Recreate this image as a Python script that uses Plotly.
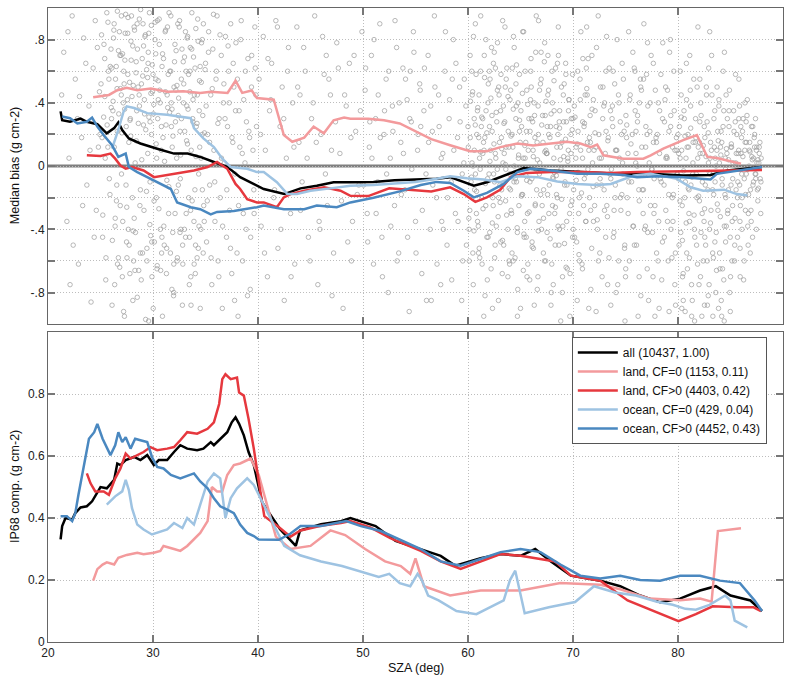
import plotly.graph_objects as go
from plotly.subplots import make_subplots

# ---------------- individual matchups (top panel scatter) ----------------
pts_sza = [
    21.5, 21.8, 22.0, 22.3, 22.6, 22.9, 23.2, 23.4, 23.7, 23.9, 24.1, 24.3, 24.5, 24.6, 24.8, 24.9, 22.1, 23.0,
    25.1, 25.2, 25.3, 25.4, 25.5, 25.6, 25.7, 25.8, 25.9, 26.0, 26.1, 26.2, 26.3, 26.4, 26.5, 26.6, 26.7, 26.8,
    26.9, 27.0, 27.1, 27.2, 27.3, 27.4, 27.5, 27.6, 27.7, 27.8, 27.9, 28.0, 28.1, 28.2, 28.3, 28.4, 28.5, 28.6,
    28.7, 28.8, 28.9, 29.0, 29.1, 29.2, 29.3, 29.4, 29.5, 29.6, 29.7, 29.8, 29.9, 26.05, 27.25, 28.45, 29.55,
    25.45, 26.55, 27.65, 28.75, 29.85, 25.75, 26.85, 27.95, 29.05, 28.15, 26.35, 27.45,
    30.0, 30.1, 30.2, 30.3, 30.4, 30.5, 30.6, 30.7, 30.8, 30.9, 31.0, 31.1, 31.2, 31.3, 31.4, 31.5, 31.6, 31.7,
    31.8, 31.9, 32.0, 32.1, 32.2, 32.3, 32.4, 32.5, 32.6, 32.7, 32.8, 32.9, 33.0, 33.1, 33.2, 33.3, 33.4, 33.5,
    33.6, 33.7, 33.8, 33.9, 34.0, 34.1, 34.2, 34.3, 34.4, 34.5, 34.6, 34.7, 34.8, 34.9, 30.45, 31.35, 32.25,
    33.15, 34.05, 30.85, 31.75, 32.65, 33.55, 34.45,
    35.0, 35.1, 35.2, 35.3, 35.4, 35.5, 35.6, 35.7, 35.8, 35.9, 36.0, 36.1, 36.2, 36.3, 36.4, 36.5, 36.6, 36.7,
    36.8, 36.9, 37.0, 37.1, 37.2, 37.3, 37.4, 37.5, 37.6, 37.7, 37.8, 37.9, 38.0, 38.2, 38.4, 38.6, 38.8, 39.0,
    39.2, 39.4, 39.6, 39.8, 38.1, 38.5, 38.9, 39.3, 39.7,
    40.1, 40.3, 40.5, 40.7, 40.9, 41.1, 41.3, 41.5, 41.7, 41.9, 42.1, 42.3, 42.5, 42.7, 42.9, 43.1, 43.3, 43.5,
    43.7, 43.9, 44.2, 44.5, 44.8, 45.1, 45.4, 45.7, 46.0, 46.3, 46.6, 46.9, 47.2, 47.5, 47.8, 48.1, 48.4, 48.7,
    49.0, 49.3, 49.6, 49.9, 44.0, 45.9, 47.0, 48.9, 46.5,
    50.2, 50.4, 50.6, 50.8, 51.0, 51.2, 51.4, 51.6, 51.8, 52.0, 52.2, 52.4, 52.6, 52.8, 53.0, 53.2, 53.4, 53.6,
    53.8, 54.0, 54.2, 54.4, 54.6, 54.8, 55.0, 55.2, 55.4, 55.6, 55.8, 56.0, 56.2, 56.4, 56.6, 56.8, 57.0, 57.2,
    57.4, 57.6, 57.8, 58.0, 58.2, 58.4, 58.6, 58.8, 59.0, 59.2, 59.4, 59.6, 59.8, 55.5, 57.5, 58.5, 59.5, 56.5, 54.5,
    60.0, 60.1, 60.2, 60.3, 60.4, 60.5, 60.6, 60.7, 60.8, 60.9, 61.0, 61.1, 61.2, 61.3, 61.4, 61.5, 61.6, 61.7,
    61.8, 61.9, 62.0, 62.1, 62.2, 62.3, 62.4, 62.5, 62.6, 62.7, 62.8, 62.9, 63.0, 63.1, 63.2, 63.3, 63.4, 63.5,
    63.6, 63.7, 63.8, 63.9, 64.0, 64.1, 64.2, 64.3, 64.4, 64.5, 64.6, 64.7, 64.8, 64.9, 65.0, 65.1, 65.2, 65.3,
    65.4, 65.5, 65.6, 65.7, 65.8, 65.9, 66.0, 66.1, 66.2, 66.3, 66.4, 66.5, 66.6, 66.7, 66.8, 66.9, 67.0, 67.1,
    67.2, 67.3, 67.4, 67.5, 67.6, 67.7, 67.8, 67.9, 68.0, 68.1, 68.2, 68.3, 68.4, 68.5, 68.6, 68.7, 68.8, 68.9,
    69.0, 69.1, 69.2, 69.3, 69.4, 69.5, 69.6, 69.7, 69.8, 69.9, 62.05, 64.05, 66.05, 68.05, 63.55, 65.55, 67.55,
    70.0, 70.15, 70.3, 70.45, 70.6, 70.75, 70.9, 71.05, 71.2, 71.35, 71.5, 71.65, 71.8, 71.95, 72.1, 72.25, 72.4,
    72.55, 72.7, 72.85, 73.0, 73.15, 73.3, 73.45, 73.6, 73.75, 73.9, 74.05, 74.2, 74.35, 74.5, 74.65, 74.8, 74.95,
    75.1, 75.25, 75.4, 75.55, 75.7, 75.85, 76.0, 76.15, 76.3, 76.45, 76.6, 76.75, 76.9, 77.05, 77.2, 77.35, 77.5,
    77.65, 77.8, 77.95, 78.1, 78.25, 78.4, 78.55, 78.7, 78.85, 79.0, 79.15, 79.3, 79.45, 79.6, 79.75, 79.9, 71.0,
    73.0, 75.0, 77.0, 79.0, 72.0, 74.0, 76.0,
    80.0, 80.1, 80.2, 80.3, 80.4, 80.5, 80.6, 80.7, 80.8, 80.9, 81.0, 81.1, 81.2, 81.3, 81.4, 81.5, 81.6, 81.7,
    81.8, 81.9, 82.0, 82.1, 82.2, 82.3, 82.4, 82.5, 82.6, 82.7, 82.8, 82.9, 83.0, 83.1, 83.2, 83.3, 83.4, 83.5,
    83.6, 83.7, 83.8, 83.9, 84.0, 84.1, 84.2, 84.3, 84.4, 84.5, 84.6, 84.7, 84.8, 84.9, 85.0, 85.1, 85.2, 85.3,
    85.4, 85.5, 85.6, 85.7, 85.8, 85.9, 86.0, 86.1, 86.2, 86.3, 86.4, 86.5, 86.6, 86.7, 86.8, 86.9, 87.0, 87.1,
    87.2, 87.3, 87.4, 87.5, 87.6, 87.7, 87.8, 87.9, 81.05, 82.05, 83.05, 84.05, 85.05, 86.05, 83.55, 84.55, 85.55,
    82.55,
    21.3, 21.9, 22.4, 22.8, 23.3, 23.6, 24.0, 24.4, 24.7, 24.95,
    25.05, 25.15, 25.22, 25.33, 25.41, 25.52, 25.63, 25.71, 25.84, 25.93, 26.02, 26.13, 26.24, 26.31, 26.43,
    26.52, 26.61, 26.74, 26.83, 26.95, 27.04, 27.12, 27.21, 27.35, 27.43, 27.56, 27.62, 27.73, 27.81, 27.92,
    28.03, 28.12, 28.24, 28.33, 28.41, 28.52, 28.64, 28.71, 28.82, 28.93, 29.02, 29.14, 29.23, 29.31, 29.42,
    29.53, 29.61, 29.72, 29.84, 29.95,
    30.04, 30.13, 30.26, 30.35, 30.42, 30.56, 30.64, 30.73, 30.86, 30.95, 31.03, 31.16, 31.24, 31.32, 31.45,
    31.53, 31.66, 31.74, 31.83, 31.96, 32.05, 32.14, 32.23, 32.36, 32.44, 32.57, 32.63, 32.76, 32.84, 32.93,
    33.02, 33.16, 33.25, 33.34, 33.46, 33.52, 33.64, 33.73, 33.86, 33.94, 34.03, 34.12, 34.26, 34.35, 34.43,
    34.56, 34.62, 34.74, 34.83, 34.96,
    35.06, 35.17, 35.28, 35.39, 35.53, 35.64, 35.76, 35.88, 36.04, 36.18, 36.27, 36.38, 36.52, 36.63, 36.75,
    36.86, 37.03, 37.15, 37.26, 37.38, 37.52, 37.64, 37.77, 37.86, 38.04, 38.15, 38.27, 38.36, 38.53, 38.64,
    38.76, 38.87, 39.04, 39.13, 39.26, 39.38, 39.52, 39.63, 39.74, 39.86,
    40.25, 40.62, 40.95, 41.22, 41.58, 41.85, 42.18, 42.45, 42.82, 43.15, 43.42, 43.78, 44.05, 44.35, 44.68,
    44.95, 45.25, 45.55, 45.82, 46.15, 46.42, 46.75, 47.05, 47.38, 47.65, 47.95, 48.25, 48.55, 48.85, 49.15,
    49.45, 49.75,
    50.05, 50.25, 50.45, 50.65, 50.85, 51.05, 51.25, 51.45, 51.65, 51.85, 52.05, 52.25, 52.45, 52.65, 52.85,
    53.05, 53.25, 53.45, 53.65, 53.85, 54.05, 54.25, 54.45, 54.65, 54.85, 55.05, 55.25, 55.45, 55.65, 55.85,
    56.05, 56.25, 56.45, 56.65, 56.85, 57.05, 57.25, 57.45, 57.65, 57.85, 58.05, 58.25, 58.45, 58.65, 58.85,
    59.05, 59.25, 59.45, 59.65, 59.85,
    60.03, 60.17, 60.24, 60.38, 60.46, 60.59, 60.63, 60.77, 60.84, 60.98, 61.05, 61.16, 61.27, 61.34, 61.48,
    61.55, 61.69, 61.72, 61.86, 61.93, 62.07, 62.14, 62.28, 62.36, 62.42, 62.58, 62.65, 62.74, 62.87, 62.96,
    63.04, 63.18, 63.26, 63.37, 63.45, 63.58, 63.64, 63.79, 63.83, 63.97, 64.06, 64.15, 64.27, 64.33, 64.48,
    64.56, 64.62, 64.76, 64.85, 64.97,
    65.04, 65.13, 65.27, 65.35, 65.44, 65.57, 65.66, 65.74, 65.88, 65.95, 66.08, 66.16, 66.23, 66.37, 66.45,
    66.54, 66.68, 66.76, 66.83, 66.97, 67.06, 67.14, 67.28, 67.35, 67.47, 67.53, 67.67, 67.74, 67.86, 67.93,
    68.04, 68.17, 68.26, 68.34, 68.43, 68.57, 68.66, 68.73, 68.86, 68.94, 69.03, 69.16, 69.24, 69.37, 69.46,
    69.55, 69.63, 69.78, 69.84, 69.96,
    60.12, 60.52, 60.91, 61.21, 61.62, 62.03, 62.33, 62.81, 63.12, 63.52, 63.91, 64.22, 64.71, 65.21, 65.62,
    66.02, 66.31, 66.72, 67.18, 67.61, 68.12, 68.52, 68.83, 69.32, 69.72, 60.71, 61.41, 62.52, 63.62, 64.41,
    65.51, 66.61, 67.42, 68.22, 69.12, 61.02, 62.92, 64.91, 66.92, 68.72,
    70.06, 70.12, 70.27, 70.35, 70.48, 70.54, 70.67, 70.73, 70.86, 70.92, 71.08, 71.16, 71.23, 71.38, 71.44,
    71.57, 71.63, 71.78, 71.86, 71.94, 72.06, 72.18, 72.24, 72.33, 72.47, 72.58, 72.62, 72.77, 72.83, 72.96,
    73.07, 73.14, 73.28, 73.36, 73.43, 73.57, 73.66, 73.78, 73.84, 73.97, 74.03, 74.17, 74.26, 74.38, 74.42,
    74.56, 74.68, 74.74, 74.87, 74.93,
    75.04, 75.16, 75.23, 75.37, 75.45, 75.58, 75.64, 75.76, 75.83, 75.97, 76.05, 76.14, 76.27, 76.33, 76.46,
    76.55, 76.68, 76.72, 76.87, 76.94, 77.07, 77.13, 77.26, 77.38, 77.44, 77.57, 77.66, 77.73, 77.84, 77.96,
    78.03, 78.16, 78.24, 78.37, 78.45, 78.53, 78.67, 78.76, 78.84, 78.97, 79.06, 79.14, 79.27, 79.33, 79.48,
    79.56, 79.64, 79.77, 79.85, 79.94,
    70.4, 71.3, 72.2, 73.2, 74.1, 75.3, 76.2, 77.1, 78.2, 79.2, 71.7, 73.6, 75.9, 77.8, 79.7,
    80.04, 80.13, 80.26, 80.35, 80.43, 80.57, 80.64, 80.76, 80.83, 80.95, 81.04, 81.17, 81.23, 81.36, 81.44,
    81.56, 81.67, 81.74, 81.86, 81.93, 82.04, 82.16, 82.27, 82.34, 82.48, 82.56, 82.63, 82.77, 82.84, 82.96,
    83.06, 83.14, 83.23, 83.37, 83.46, 83.53, 83.64, 83.78, 83.86, 83.94, 84.03, 84.17, 84.24, 84.36, 84.47,
    84.53, 84.66, 84.74, 84.86, 84.93,
    85.04, 85.16, 85.24, 85.38, 85.45, 85.53, 85.67, 85.73, 85.86, 85.94, 86.07, 86.14, 86.25, 86.36, 86.43,
    86.57, 86.64, 86.76, 86.83, 86.95, 87.03, 87.14, 87.26, 87.35, 87.47, 87.56, 87.62, 87.74, 87.83, 87.92,
    80.22, 80.68, 81.12, 81.58, 82.08, 82.52, 82.92, 83.32, 83.72, 84.12, 84.58, 84.98, 85.48, 85.92, 86.38,
    86.88, 87.38, 87.88, 83.02, 84.42,
]
pts_bias = [
    0.72, -0.35, 0.05, 0.95, 0.55, -0.62, 0.18, 0.81, -0.12, 0.38, -0.86, 0.62, 0.92, -0.28, 0.12, 0.47, -0.75, 0.44,
    0.83, -0.45, 0.31, 0.68, -0.72, 0.97, 0.12, 0.55, -0.18, 0.74, -0.88, 0.41, 0.9, -0.33, 0.63, 0.22, -0.58, 0.85,
    0.49, -0.05, 0.71, -0.92, 0.36, 0.96, -0.26, 0.58, 0.15, -0.68, 0.79, 0.44, -0.41, 0.88, 0.02, 0.66, -0.83, 0.27,
    0.93, -0.15, 0.52, -0.55, 0.76, 0.33, -0.97, 0.61, 0.08, 0.84, -0.37, 0.46, -0.7, 0.3, 0.52, 0.35, 0.72,
    0.05, -0.12, -0.4, -0.25, 0.2, 0.6, 0.7, 0.95, 0.9, -0.6, -0.75, 0.25,
    0.58, -0.22, 0.91, 0.14, -0.63, 0.42, 0.77, -0.4, 0.25, -0.95, 0.68, 0.03, 0.86, -0.52, 0.37, -0.13, 0.6, 0.95,
    -0.78, 0.19, 0.5, -0.3, 0.73, -0.6, 0.32, 0.88, -0.08, 0.55, -0.88, 0.4, 0.69, -0.45, 0.16, 0.82, -0.2, 0.47,
    -0.7, 0.97, 0.28, -0.35, 0.62, 0.06, -0.58, 0.79, 0.35, -0.9, 0.53, -0.15, 0.9, 0.21, 0.3, 0.45, 0.05,
    0.6, -0.5, -0.45, 0.25, -0.4, 0.75, 0.12,
    0.65, -0.48, 0.2, 0.85, -0.12, 0.45, -0.75, 0.74, 0.1, -0.35, 0.55, 0.95, -0.6, 0.3, -0.2, 0.7, -0.9, 0.4,
    0.02, 0.82, -0.45, 0.25, 0.6, -0.28, 0.9, -0.68, 0.15, 0.5, -0.05, 0.78, -0.55, 0.35, 0.92, -0.3, 0.6, -0.82,
    0.18, 0.7, -0.15, 0.45, -0.95, 0.08, 0.28, -0.45, 0.88,
    0.55, -0.38, 0.82, 0.1, -0.7, 0.35, 0.65, -0.2, 0.92, -0.52, 0.25, 0.5, -0.85, 0.05, 0.75, -0.3, 0.4, -0.62,
    0.88, 0.15, -0.1, 0.6, -0.45, 0.3, 0.95, -0.75, 0.2, 0.58, -0.25, 0.45, -0.55, 0.78, 0.08, -0.9, 0.38, 0.65,
    -0.35, 0.22, -0.12, 0.85, 0.45, -0.4, 0.1, -0.6, 0.7,
    0.48, -0.3, 0.12, 0.7, -0.62, 0.3, -0.1, 0.9, -0.45, 0.2, 0.55, -0.8, 0.05, 0.38, -0.25, 0.75, -0.55, 0.15,
    0.62, -0.15, 0.42, -0.92, 0.28, 0.85, -0.35, 0.1, 0.52, -0.68, 0.35, -0.05, 0.7, -0.4, 0.22, 0.95, -0.2, 0.45,
    -0.75, 0.08, 0.6, -0.5, 0.3, -0.1, 0.8, -0.3, 0.18, 0.5, -0.85, 0.02, 0.38, 0.25, -0.35, 0.55, -0.6, -0.85, 0.6,
    0.25, -0.4, 0.7, -0.1, 0.45, -0.75, 0.1, 0.9, -0.3, 0.35, -0.55, 0.05, 0.6, -0.2, 0.3, -0.95, 0.18, 0.8,
    -0.45, 0.4, -0.05, 0.55, -0.65, 0.22, -0.25, 0.72, 0.08, -0.38, 0.48, -0.85, 0.15, 0.35, -0.15, 0.92, -0.5, 0.28,
    -0.02, 0.62, -0.7, 0.12, 0.42, -0.28, 0.2, -0.6, 0.75, -0.08, 0.38, -0.42, 0.05, 0.58, -0.9, 0.25, -0.18, 0.85,
    -0.35, 0.15, 0.48, -0.62, 0.3, -0.1, 0.68, -0.48, 0.1, 0.4, -0.25, 0.95, -0.78, 0.2, -0.05, 0.52, -0.4, 0.32,
    -0.15, 0.78, -0.6, 0.08, 0.45, -0.3, 0.18, -0.88, 0.6, -0.08, 0.35, -0.5, 0.25, -0.2, 0.88, -0.4, 0.12, 0.5,
    -0.7, 0.28, -0.12, 0.65, -0.35, 0.05, 0.42, -0.95, 0.2, -0.22, 0.25, -0.15, 0.3, -0.25, 0.5, -0.45, 0.25,
    0.3, -0.45, 0.12, 0.6, -0.2, 0.85, -0.65, 0.25, -0.05, 0.45, -0.9, 0.15, 0.7, -0.35, 0.35, -0.12, 0.95,
    -0.55, 0.05, 0.5, -0.28, 0.22, -0.75, 0.62, -0.08, 0.38, -0.42, 0.1, 0.8, -0.6, 0.28, -0.18, 0.55, -0.98,
    0.18, -0.3, 0.42, -0.05, 0.72, -0.5, 0.08, 0.32, -0.7, 0.5, -0.15, 0.9, -0.38, 0.2, -0.85, 0.4, -0.02,
    0.65, -0.25, 0.15, -0.6, 0.35, -0.1, 0.78, -0.45, 0.05, 0.48, -0.92, 0.25, -0.2, 0.6, -0.55, 0.1, -0.25,
    0.4, -0.7, 0.58, -0.35, 0.1, -0.2, 0.22,
    0.2, -0.5, 0.05, 0.45, -0.25, -0.85, 0.3, -0.1, 0.65, -0.65, 0.12, -0.35, 0.38, -0.95, -0.05, 0.55, -0.45, 0.18,
    -0.2, 0.88, -0.75, 0.08, 0.32, -0.3, -0.6, 0.25, -0.12, 0.5, -0.88, 0.02, -0.4, 0.15, 0.7, -0.55, -0.18, 0.35,
    -0.8, 0.1, -0.28, 0.42, -0.65, 0.22, -0.08, 0.6, -0.98, 0.05, -0.38, 0.3, -0.15, 0.48, -0.7, 0.12, -0.25, 0.35,
    -0.5, 0.02, 0.2, -0.1, 0.55, -0.35, 0.08, -0.2, 0.3, -0.6, 0.15, -0.05, 0.42, -0.3, 0.1, -0.15, 0.25, -0.45,
    0.05, 0.2, -0.08, 0.12, -0.22, 0.02, 0.15, -0.1, -0.15, 0.15, -0.05, 0.12, -0.12, 0.18, 0.05, -0.2, 0.08,
    -0.45,
    0.45, 0.85, -0.5, 0.3, -0.25, 0.65, 0.1, -0.45, 0.75, 0.2,
    0.52, 0.18, -0.31, 0.77, 0.44, -0.58, 0.26, 0.91, -0.08, 0.63, 0.37, -0.47, 0.81, 0.12, 0.55,
    -0.22, 0.98, 0.33, -0.64, 0.7, 0.21, -0.35, 0.6, 0.84, -0.12, 0.42, 0.94, -0.5, 0.29, 0.67,
    -0.2, 0.51, 0.86, -0.42, 0.16, 0.74, -0.66, 0.38, 0.99, 0.04, 0.57, -0.28, 0.82, 0.23, -0.52,
    0.65, 0.31, -0.1, 0.89, 0.47,
    0.33, -0.48, 0.71, 0.05, 0.92, -0.27, 0.48, -0.66, 0.63, 0.18, -0.38, 0.85, 0.26, -0.09, 0.58,
    0.97, -0.55, 0.4, 0.12, -0.82, 0.66, 0.28, -0.16, 0.9, 0.43, -0.42, 0.07, 0.74, -0.62, 0.52,
    0.22, -0.3, 0.81, 0.36, -0.75, 0.6, 0.1, -0.22, 0.69, 0.45, -0.68, 0.25, 0.93, -0.05, 0.54,
    -0.4, 0.78, 0.32, -0.25, 0.61,
    0.38, -0.22, 0.72, 0.15, -0.58, 0.49, 0.96, -0.1, 0.6, 0.27, -0.7, 0.83, 0.05, -0.38, 0.52,
    0.3, -0.15, 0.76, 0.4, -0.52, 0.18, 0.65, -0.85, 0.35, 0.55, -0.25, 0.12, 0.8, -0.6, 0.42,
    0.02, -0.4, 0.68, 0.22, -0.78, 0.5, 0.1, -0.3, 0.62, 0.25,
    0.2, -0.55, 0.68, 0.42, -0.15, 0.88, -0.4, 0.3, 0.6, -0.7, 0.12, 0.5, -0.28, 0.75, 0.05,
    -0.6, 0.4, 0.15, -0.35, 0.82, -0.05, 0.55, -0.82, 0.28, 0.62, -0.22, 0.45, -0.48, 0.18, 0.7,
    -0.18, 0.35,
    -0.12, 0.62, -0.48, 0.28, 0.05, 0.8, -0.3, 0.45, 0.18, -0.7, 0.35, -0.05, 0.6, -0.38, 0.22,
    0.92, -0.6, 0.4, -0.18, 0.08, 0.55, -0.45, 0.3, -0.02, 0.72, -0.55, 0.2, 0.48, -0.28, 0.62,
    -0.85, 0.15, 0.38, -0.12, 0.5, -0.62, 0.25, 0.05, -0.4, 0.85, -0.2, 0.42, -0.72, 0.1, 0.65,
    -0.35, 0.28, -0.05, 0.55, -0.5,
    0.12, -0.28, 0.41, 0.02, -0.55, 0.3, -0.15, 0.58, 0.2, -0.38, 0.45, -0.02, 0.25, -0.62, 0.15,
    0.7, -0.25, 0.35, -0.08, 0.52, -0.42, 0.1, 0.32, -0.2, 0.65, -0.5, 0.05, 0.28, -0.32, 0.45,
    -0.12, 0.18, -0.68, 0.38, 0.08, -0.22, 0.55, -0.4, 0.22, -0.05, 0.48, -0.3, 0.12, 0.82, -0.58,
    0.3, -0.1, 0.4, -0.25, 0.15,
    0.35, -0.18, 0.05, -0.45, 0.6, 0.22, -0.3, 0.1, -0.72, 0.42, -0.08, 0.28, -0.52, 0.18, 0.72,
    -0.15, 0.38, -0.35, 0.02, 0.55, -0.25, 0.15, -0.6, 0.32, 0.08, -0.42, 0.48, -0.12, 0.25, -0.8,
    0.4, 0.05, -0.3, 0.62, -0.18, 0.2, -0.5, 0.35, -0.02, 0.15, -0.38, 0.52, -0.1, 0.28, -0.65,
    0.1, 0.42, -0.25, 0.3, -0.45,
    -0.6, 0.82, -0.35, 0.95, -0.82, 0.6, -0.9, 0.78, -0.48, 0.88, -0.6, 0.62, -0.95, 0.85, -0.7,
    0.5, -0.88, 0.92, -0.55, 0.7, -0.75, 0.65, -0.98, 0.58, -0.68, -0.05, 0.08, -0.1, 0.12, 0.0,
    -0.06, 0.04, 0.1, -0.04, 0.06, 0.18, -0.2, 0.22, -0.18, 0.24,
    -0.15, 0.38, 0.05, -0.48, 0.22, -0.3, 0.55, 0.1, -0.62, 0.28, -0.08, 0.45, -0.35, 0.15, 0.68,
    -0.2, 0.32, -0.52, 0.02, 0.42, -0.25, 0.12, 0.75, -0.4, 0.2, -0.08, 0.5, -0.7, 0.3, -0.15,
    0.08, 0.6, -0.32, 0.18, -0.58, 0.35, -0.02, 0.25, -0.45, 0.52, -0.12, 0.1, -0.75, 0.4, 0.05,
    -0.28, 0.65, -0.05, 0.22, -0.5,
    0.32, -0.2, 0.08, -0.6, 0.45, -0.1, 0.2, -0.38, 0.62, 0.02, -0.5, 0.28, -0.15, 0.4, -0.82,
    0.12, -0.3, 0.55, -0.05, 0.25, -0.65, 0.38, 0.02, -0.25, 0.7, -0.42, 0.15, -0.08, 0.48, -0.55,
    0.2, -0.35, 0.08, 0.58, -0.72, 0.3, -0.12, 0.42, -0.28, 0.05, -0.6, 0.22, 0.8, -0.4, 0.12,
    -0.18, 0.35, -0.88, 0.18, -0.05,
    -0.85, 0.88, -0.92, 0.82, -0.8, 0.85, -0.95, 0.78, -0.9, 0.72, -0.78, -0.88, 0.6, -0.95, -0.75,
    -0.08, 0.25, -0.42, 0.1, -0.7, 0.35, -0.2, 0.05, -0.55, 0.2, -0.3, 0.48, -0.12, -0.85, 0.15,
    -0.4, 0.3, -0.05, -0.62, 0.12, -0.22, 0.4, -0.95, 0.08, -0.35, 0.18, -0.5, 0.28, -0.15, -0.75,
    0.05, -0.28, 0.45, -0.58, 0.12, -0.1, -0.42, 0.22, -0.9, 0.02, -0.32, 0.15, -0.65, 0.35, -0.18,
    -0.48, 0.08, -0.28, 0.25, -0.8,
    0.12, -0.35, 0.02, -0.6, 0.28, -0.15, -0.45, 0.08, 0.38, -0.25, -0.05, 0.22, -0.72, 0.1, -0.18,
    0.32, -0.38, 0.0, 0.15, -0.28, 0.06, -0.12, 0.18, -0.05, 0.1, -0.15, 0.04, 0.12, -0.08, 0.05,
    0.6, -0.92, 0.7, -0.98, 0.55, -0.88, 0.62, -0.95, 0.5, -0.85, 0.45, -0.92, 0.58, -0.7, 0.4,
    -0.55, 0.3, -0.3, 0.85, 0.72,
]

# denser clusters of matchups (low- and high-SZA groups)
dense_sza = [
    60.08, 60.21, 60.33, 60.44, 60.57, 60.69, 60.81, 60.93, 61.07, 61.19, 61.31, 61.43, 61.58, 61.66, 61.79,
    61.91, 62.09, 62.18, 62.31, 62.47, 62.54, 62.69, 62.79, 62.92, 63.06, 63.21, 63.29, 63.42, 63.56, 63.68,
    63.81, 63.92, 64.09, 64.19, 64.31, 64.43, 64.57, 64.68, 64.82, 64.91, 65.09, 65.18, 65.32, 65.41, 65.59,
    65.69, 65.82, 65.91, 66.11, 66.22,
    66.34, 66.41, 66.58, 66.69, 66.81, 66.93, 67.02, 67.19, 67.31, 67.43, 67.58, 67.69, 67.82, 67.91, 68.09,
    68.19, 68.32, 68.46, 68.58, 68.69, 68.79, 68.92, 69.08, 69.19, 69.29, 69.42, 69.57, 69.68, 69.81, 69.92,
    70.02, 70.19, 70.31, 70.42, 70.57, 70.69, 70.81, 70.91, 71.09, 71.21, 71.31, 71.42, 71.56, 71.68, 71.81,
    71.92, 60.36, 61.12, 62.61, 63.14,
    63.96, 64.62, 65.27, 65.98, 66.66, 67.27, 67.98, 68.61, 69.34, 69.96, 70.61, 71.27, 60.48, 61.53, 62.44,
    63.33, 64.38, 65.44, 66.47, 67.52, 68.41, 69.51, 70.48, 71.51, 62.24, 64.74, 66.96, 68.98, 70.94, 61.84,
    80.07, 80.18, 80.31, 80.42, 80.53, 80.66, 80.78, 80.87, 80.98, 81.09, 81.21, 81.33, 81.42, 81.53, 81.64,
    81.77, 81.88, 81.97, 82.08, 82.19, 82.32, 82.41, 82.53, 82.67, 82.78, 82.88, 82.99, 83.09, 83.18, 83.29,
    83.42, 83.51, 83.62, 83.74, 83.83, 83.96, 84.08, 84.21, 84.29, 84.41, 84.52, 84.61, 84.73, 84.81, 84.97,
    85.08, 85.21, 85.33, 85.43, 85.57,
    85.66, 85.78, 85.87, 85.98, 86.09, 86.18, 86.31, 86.42, 86.52, 86.63, 86.72, 86.86, 86.97, 87.08, 87.19,
    87.29, 87.41, 87.52, 87.66, 87.74, 80.49, 81.29, 82.14, 82.88, 83.67, 84.36, 85.14, 85.91, 86.68, 87.46,
    80.82, 81.82, 82.71, 83.89, 84.86, 85.79, 86.49, 87.12, 80.36, 84.16,
    26.08, 26.27, 26.39, 26.58, 26.71, 26.88, 26.99, 27.17, 27.32, 27.48, 27.59, 27.77, 27.88, 28.07, 28.21,
    28.38, 28.49, 28.68, 28.79, 28.97, 29.09, 29.27, 29.38, 29.49, 29.66, 29.78, 29.93, 30.07, 30.19, 30.32,
    30.49, 30.59, 30.79, 30.91, 31.07, 31.19, 31.38, 31.49, 31.69, 31.81, 31.98, 32.09, 32.28, 32.41, 32.53,
    32.71, 32.88, 32.99, 33.09, 33.28,
    33.39, 33.58, 33.69, 33.81, 33.99, 34.08, 34.19, 34.31, 34.49, 34.58, 34.69, 34.88, 26.62, 27.08, 27.52,
    28.28, 28.88, 29.42, 29.88, 30.38, 30.82, 31.28, 31.88, 32.32, 32.82, 33.48, 33.92, 34.38, 34.78, 26.18,
    26.98, 27.84, 28.58, 29.18, 29.72, 30.28, 30.68, 31.58, 32.18, 32.58, 33.22, 33.78, 34.22, 34.68, 28.08,
    30.02, 31.98, 33.62, 27.28, 29.58,
    72.09, 72.31, 72.52, 72.71, 72.93, 73.11, 73.32, 73.51, 73.72, 73.91, 74.11, 74.33, 74.52, 74.72, 74.91,
    75.12, 75.31, 75.52, 75.71, 75.92, 76.11, 76.31, 76.52, 76.71, 76.92, 77.11, 77.32, 77.52, 77.71, 77.91,
    78.12, 78.31, 78.52, 78.71, 78.91, 79.12, 79.31, 79.52, 79.71, 79.92, 72.42, 73.82, 75.02, 76.42, 77.62,
    78.82, 79.42, 73.22, 74.62, 76.82,
]
dense_bias = [
    -0.33, 0.18, -0.07, 0.47, -0.41, 0.26, -0.16, 0.37, -0.52, 0.09, 0.31, -0.27, 0.56, -0.11, 0.21,
    -0.45, 0.03, 0.43, -0.36, 0.14, -0.58, 0.34, -0.02, 0.5, -0.23, 0.11, -0.47, 0.27, 0.01, -0.31,
    0.44, -0.14, 0.19, -0.55, 0.36, -0.06, 0.52, -0.39, 0.07, 0.29, -0.19, 0.46, -0.43, 0.13, -0.09,
    0.39, -0.29, 0.22, -0.51, 0.06,
    0.32, -0.24, 0.15, -0.41, 0.48, -0.03, 0.26, -0.33, 0.09, 0.41, -0.18, 0.2, -0.46, 0.33, -0.07,
    0.54, -0.26, 0.12, -0.38, 0.28, 0.04, -0.21, 0.45, -0.49, 0.17, -0.12, 0.35, -0.3, 0.08, 0.23,
    -0.4, 0.31, -0.09, 0.14, -0.56, 0.42, -0.17, 0.05, 0.27, -0.35, 0.49, -0.02, 0.18, -0.28, 0.36,
    -0.13, 0.6, -0.58, 0.62, 0.58,
    -0.62, 0.64, -0.66, 0.6, -0.7, 0.66, -0.62, 0.7, -0.64, 0.58, -0.6, 0.62, 0.0, 0.1, -0.05,
    0.02, -0.1, 0.05, -0.02, 0.08, -0.06, 0.03, -0.04, 0.1, 0.75, -0.78, 0.72, -0.8, 0.68, -0.72,
    0.08, -0.22, 0.31, -0.47, -0.03, 0.19, -0.36, 0.12, -0.14, -0.58, 0.24, -0.07, 0.02, -0.31, 0.15,
    -0.5, 0.05, -0.19, 0.28, -0.42, -0.1, 0.13, -0.27, 0.06, -0.6, 0.21, -0.04, -0.36, 0.1, -0.15,
    0.3, -0.48, 0.0, -0.24, 0.16, -0.55, 0.07, -0.12, 0.25, -0.38, -0.02, 0.11, -0.3, 0.04, -0.45,
    0.14, -0.08, 0.22, -0.33, 0.0,
    -0.2, 0.1, -0.12, 0.25, -0.4, 0.06, -0.08, -0.28, 0.15, -0.02, -0.18, 0.09, -0.35, 0.04, -0.1,
    0.12, -0.05, 0.02, -0.14, 0.08, -0.68, -0.75, -0.7, -0.82, -0.66, -0.72, -0.6, -0.52, -0.5, -0.4,
    0.42, 0.5, 0.45, 0.38, 0.35, 0.3, 0.28, 0.25, -0.9, -0.95,
    0.62, 0.86, -0.38, 0.49, 0.73, -0.25, 0.95, 0.4, 0.67, -0.48, 0.84, 0.53, 0.19, 0.76, -0.33,
    0.59, 0.9, 0.45, -0.55, 0.68, 0.26, 0.83, -0.16, 0.56, 0.97, -0.44, 0.64, 0.39, 0.8, -0.2,
    0.54, 0.93, 0.1, 0.71, -0.5, 0.47, 0.88, -0.3, 0.6, 0.36, -0.62, 0.77, 0.51, -0.12, 0.92,
    0.3, 0.66, -0.4, 0.85, 0.14,
    0.58, -0.28, 0.74, 0.42, -0.15, 0.87, 0.27, -0.52, 0.63, 0.05, 0.8, -0.35, -0.62, -0.7, -0.58,
    -0.66, -0.72, -0.6, -0.48, -0.65, -0.55, -0.68, -0.42, -0.58, -0.5, -0.45, -0.62, -0.38, -0.55, 0.35,
    0.45, 0.3, 0.5, 0.42, 0.28, 0.55, 0.4, 0.34, 0.48, 0.22, 0.38, 0.3, 0.45, 0.2, -0.85,
    -0.9, -0.8, -0.88, -0.95, -0.98,
    0.21, -0.34, 0.05, -0.12, 0.38, -0.45, 0.16, -0.05, 0.3, -0.28, 0.1, 0.45, -0.2, 0.02, -0.52,
    0.26, -0.1, 0.14, -0.38, 0.35, 0.0, -0.22, 0.48, -0.15, 0.12, -0.42, 0.22, -0.02, -0.3, 0.18,
    0.4, -0.08, -0.48, 0.28, 0.06, -0.18, 0.32, -0.35, 0.1, -0.05, -0.6, 0.6, -0.65, 0.55, -0.7,
    0.5, -0.58, -0.25, 0.2, -0.4,
]

# ---------------- running median bias (top panel) ----------------
all_top_x = [21.2, 21.35, 22.1, 23.1, 23.7, 24.7, 25.6, 26.3, 26.7, 27.07, 27.7, 28.8, 30.4, 32.0, 33.3, 34.5,
             35.8, 37.1, 38.3, 39.6, 40.55, 42.5, 44.05, 45.6, 47.2, 48.8, 51.0, 53.0, 55.0, 57.0, 58.3, 59.6,
             60.55, 61.8, 63.1, 64.4, 65.3, 67.9, 71.0, 74.2, 77.4, 80.5, 83.1, 84.7, 88.0]
all_top_y = [0.346, 0.29, 0.28, 0.30, 0.28, 0.265, 0.207, 0.24, 0.277, 0.228, 0.175, 0.143, 0.11, 0.079, 0.079,
             0.058, 0.026, -0.006, -0.07, -0.113, -0.145, -0.177, -0.141, -0.124, -0.102, -0.102, -0.1, -0.09,
             -0.085, -0.08, -0.07, -0.102, -0.124, -0.102, -0.07, -0.038, -0.013, -0.028, -0.038, -0.049, -0.049,
             -0.06, -0.056, -0.028, -0.006]

land0_top_x = [24.3, 25.8, 26.6, 27.5, 28.5, 29.8, 31.35, 32.9, 34.5, 35.5, 37.1, 37.86, 38.5, 39.4, 39.9, 41.5,
               42.46, 43.26, 44.4, 45.3, 46.27, 47.2, 48.2, 48.8, 50.5, 52.0, 53.5, 55.0, 56.5, 58.3, 60.2, 61.8,
               63.1, 64.7, 66.2, 67.9, 69.4, 70.7, 71.7, 72.3, 72.9, 74.8, 76.7, 77.4, 78.6, 80.5, 81.8, 82.8,
               83.7, 86.0]
land0_top_y = [0.435, 0.45, 0.48, 0.495, 0.48, 0.49, 0.47, 0.474, 0.463, 0.47, 0.463, 0.54, 0.463, 0.478, 0.43,
               0.42, 0.196, 0.154, 0.18, 0.25, 0.207, 0.29, 0.307, 0.30, 0.30, 0.29, 0.27, 0.22, 0.17, 0.132,
               0.094, 0.094, 0.12, 0.143, 0.13, 0.143, 0.154, 0.143, 0.12, 0.136, 0.068, 0.047, 0.047, 0.068,
               0.11, 0.164, 0.196, 0.058, 0.051, 0.015]

land_top_x = [23.7, 25.0, 25.95, 26.4, 26.9, 27.4, 28.0, 29.1, 30.1, 31.35, 32.6, 33.9, 35.2, 36.1, 37.07, 37.86,
              38.3, 38.97, 39.9, 40.55, 41.8, 42.46, 43.1, 44.4, 46.3, 47.86, 48.8, 50.5, 52.5, 54.5, 56.5, 58.3,
              59.6, 60.7, 61.8, 63.1, 64.05, 65.6, 67.9, 71.0, 73.6, 76.1, 79.0, 82.1, 85.3, 88.0]
land_top_y = [0.068, 0.064, 0.079, 0.047, 0.004, -0.017, -0.006, -0.028, -0.07, -0.056, -0.038, -0.028, -0.006,
              0.026, -0.017, -0.113, -0.145, -0.21, -0.23, -0.23, -0.26, -0.198, -0.177, -0.156, -0.134, -0.156,
              -0.188, -0.19, -0.14, -0.15, -0.16, -0.134, -0.177, -0.226, -0.198, -0.149, -0.07, -0.043, -0.038,
              -0.038, -0.043, -0.038, -0.034, -0.028, -0.028, -0.024]

ocean0_top_x = [26.1, 26.7, 27.2, 27.5, 28.2, 29.45, 31.35, 32.6, 33.6, 33.9, 34.8, 35.8, 36.6, 37.4, 38.97,
                39.9, 40.55, 41.8, 42.8, 43.7, 45.0, 46.9, 48.8, 51.0, 53.0, 55.0, 57.0, 58.3, 59.9, 61.5, 63.1,
                64.7, 66.6, 68.5, 70.4, 72.3, 73.6, 75.8, 77.4, 79.9, 81.2, 82.4, 84.4, 85.6, 86.6]
ocean0_top_y = [0.11, 0.23, 0.346, 0.378, 0.367, 0.335, 0.324, 0.314, 0.303, 0.24, 0.175, 0.12, 0.047, -0.006,
                -0.017, -0.038, -0.038, -0.102, -0.177, -0.177, -0.156, -0.141, -0.124, -0.12, -0.11, -0.1,
                -0.08, -0.064, -0.077, -0.085, -0.102, -0.064, -0.07, -0.098, -0.113, -0.12, -0.113, -0.06,
                -0.049, -0.081, -0.134, -0.156, -0.149, -0.177, -0.184]

ocean_top_x = [21.35, 22.1, 22.8, 23.7, 24.2, 24.7, 25.3, 26.1, 26.7, 27.4, 27.7, 28.5, 29.45, 30.7, 31.7, 32.3,
               33.6, 34.5, 35.5, 36.1, 37.7, 39.9, 40.55, 42.46, 44.4, 45.6, 47.5, 48.8, 51.0, 53.5, 55.5, 57.0,
               58.3, 59.6, 60.55, 61.8, 63.4, 64.7, 66.0, 67.9, 70.4, 72.6, 74.8, 76.1, 78.0, 80.5, 83.1, 83.7,
               85.6, 88.0]
ocean_top_y = [0.314, 0.303, 0.27, 0.28, 0.307, 0.25, 0.196, 0.132, 0.058, 0.079, -0.006, -0.038, -0.07, -0.113,
               -0.145, -0.23, -0.26, -0.273, -0.305, -0.29, -0.284, -0.26, -0.25, -0.273, -0.273, -0.25, -0.26,
               -0.23, -0.2, -0.16, -0.12, -0.1, -0.107, -0.156, -0.198, -0.17, -0.113, -0.038, -0.017, -0.028,
               -0.049, -0.049, -0.056, -0.07, -0.064, -0.07, -0.085, -0.049, -0.028, -0.006]

# ---------------- IP68 component (bottom panel) ----------------
all_bot_x = [21.2, 21.35, 21.67, 22.3, 22.6, 23.1, 23.7, 24.2, 25.0, 25.6, 26.3, 26.6, 26.9, 27.4, 28.2, 28.8,
             29.45, 30.08, 30.55, 31.35, 32.0, 32.6, 33.26, 34.2, 34.8, 35.5, 35.8, 36.4, 37.07, 37.5, 37.86,
             38.2, 38.65, 39.1, 39.6, 40.4, 42.1, 43.6, 44.0, 46.0, 47.9, 48.8, 51.2, 53.1, 55.5, 57.4, 58.8,
             61.2, 63.1, 65.0, 66.4, 67.9, 69.8, 72.6, 74.5, 76.4, 78.3, 80.2, 82.1, 83.6, 85.0, 86.9, 88.0]
all_bot_y = [0.331, 0.374, 0.40, 0.395, 0.416, 0.434, 0.438, 0.454, 0.50, 0.496, 0.523, 0.576, 0.571, 0.587,
             0.597, 0.587, 0.603, 0.571, 0.587, 0.587, 0.613, 0.635, 0.624, 0.619, 0.624, 0.645, 0.635, 0.656,
             0.677, 0.709, 0.725, 0.704, 0.667, 0.613, 0.571, 0.45, 0.364, 0.31, 0.36, 0.38, 0.39, 0.40, 0.374,
             0.326, 0.30, 0.278, 0.246, 0.27, 0.284, 0.278, 0.30, 0.26, 0.214, 0.198, 0.18, 0.15, 0.128, 0.14,
             0.166, 0.18, 0.15, 0.134, 0.10]

land0_bot_x = [24.3, 24.7, 25.2, 25.6, 26.3, 26.7, 27.5, 28.5, 29.1, 30.08, 30.7, 31.0, 32.0, 32.6, 33.26, 33.9,
               34.5, 34.8, 35.2, 35.4, 35.6, 36.1, 36.6, 37.07, 37.7, 38.3, 38.97, 39.3, 39.6, 40.07, 40.8,
               41.7, 43.1, 45.0, 46.9, 48.3, 50.2, 52.1, 53.6, 54.5, 55.0, 55.8, 58.3, 61.2, 65.0, 68.8, 72.6,
               74.5, 77.3, 80.2, 82.1, 83.2, 83.8, 86.0]
land0_bot_y = [0.198, 0.235, 0.25, 0.257, 0.25, 0.272, 0.281, 0.288, 0.283, 0.288, 0.294, 0.31, 0.30, 0.294,
               0.31, 0.331, 0.352, 0.368, 0.39, 0.443, 0.50, 0.486, 0.486, 0.539, 0.571, 0.576, 0.587, 0.592,
               0.571, 0.539, 0.45, 0.34, 0.30, 0.31, 0.36, 0.345, 0.30, 0.26, 0.245, 0.22, 0.27, 0.18, 0.15,
               0.166, 0.166, 0.19, 0.185, 0.17, 0.14, 0.135, 0.14, 0.13, 0.358, 0.367]

land_bot_x = [23.7, 24.05, 24.5, 25.3, 25.8, 26.4, 26.9, 27.4, 27.86, 28.5, 29.1, 29.76, 30.4, 31.35, 32.0, 32.6,
              33.26, 34.2, 35.2, 35.8, 36.3, 36.6, 36.9, 37.4, 38.0, 38.2, 38.65, 39.1, 39.6, 40.07, 40.6, 42.0,
              43.1, 44.05, 46.0, 47.9, 48.8, 50.7, 52.6, 55.5, 57.4, 59.3, 61.2, 63.1, 65.0, 66.9, 68.3, 69.8,
              72.6, 75.2, 77.1, 80.05, 81.7, 83.3, 85.6, 87.2, 87.9]
land_bot_y = [0.544, 0.512, 0.486, 0.486, 0.475, 0.528, 0.56, 0.608, 0.592, 0.603, 0.613, 0.629, 0.619, 0.624,
              0.629, 0.651, 0.677, 0.672, 0.688, 0.709, 0.768, 0.848, 0.864, 0.848, 0.853, 0.805, 0.795, 0.72,
              0.624, 0.518, 0.406, 0.37, 0.34, 0.36, 0.375, 0.384, 0.39, 0.37, 0.335, 0.294, 0.26, 0.236, 0.26,
              0.284, 0.278, 0.268, 0.26, 0.214, 0.198, 0.134, 0.107, 0.067, 0.09, 0.115, 0.112, 0.112, 0.10]

ocean0_bot_x = [25.6, 26.4, 27.07, 27.4, 27.7, 28.0, 28.5, 29.1, 29.9, 30.4, 31.35, 32.0, 32.8, 33.26, 33.9,
                34.5, 35.2, 35.8, 36.4, 36.9, 37.4, 38.0, 38.97, 39.6, 40.07, 40.5, 41.5, 42.5, 44.0, 46.0, 48.0,
                50.0, 51.5, 52.5, 53.5, 54.5, 55.2, 55.6, 56.2, 57.2, 58.9, 60.8, 62.0, 63.4, 64.0, 64.5, 65.4,
                67.7, 70.2, 72.0, 74.0, 76.0, 78.0, 79.5, 80.7, 81.7, 83.0, 84.5, 85.0, 85.4, 86.6]
ocean0_bot_y = [0.443, 0.47, 0.486, 0.523, 0.49, 0.432, 0.379, 0.363, 0.347, 0.352, 0.363, 0.384, 0.368, 0.40,
                0.379, 0.443, 0.518, 0.544, 0.528, 0.40, 0.464, 0.496, 0.528, 0.507, 0.475, 0.45, 0.38, 0.31,
                0.28, 0.26, 0.245, 0.225, 0.21, 0.22, 0.19, 0.18, 0.22, 0.2, 0.15, 0.134, 0.10, 0.09, 0.11,
                0.134, 0.2, 0.23, 0.093, 0.112, 0.129, 0.18, 0.16, 0.15, 0.13, 0.12, 0.107, 0.104, 0.12, 0.15,
                0.134, 0.069, 0.047]

ocean_bot_x = [21.2, 21.8, 22.3, 22.6, 22.9, 23.3, 23.6, 23.9, 24.4, 24.7, 25.2, 25.6, 25.95, 26.4, 26.7, 27.07,
               27.4, 27.86, 28.3, 28.8, 29.45, 29.9, 30.4, 31.0, 31.7, 32.6, 33.57, 33.9, 34.5, 35.2, 35.8, 36.4,
               37.07, 37.7, 38.3, 38.97, 39.6, 40.07, 42.0, 43.1, 44.05, 46.0, 48.4, 49.8, 51.7, 53.1, 55.5,
               57.4, 59.3, 61.2, 63.1, 65.0, 66.9, 68.8, 70.7, 72.6, 74.5, 76.4, 78.3, 80.2, 82.1, 84.0, 85.9,
               87.3, 88.0]
ocean_bot_y = [0.406, 0.406, 0.39, 0.416, 0.475, 0.55, 0.613, 0.656, 0.677, 0.704, 0.656, 0.629, 0.603, 0.635,
               0.677, 0.645, 0.661, 0.624, 0.656, 0.651, 0.645, 0.597, 0.565, 0.56, 0.539, 0.528, 0.539, 0.544,
               0.518, 0.496, 0.464, 0.438, 0.427, 0.416, 0.379, 0.352, 0.342, 0.331, 0.33, 0.35, 0.374, 0.374,
               0.39, 0.374, 0.358, 0.337, 0.30, 0.26, 0.246, 0.268, 0.29, 0.30, 0.29, 0.25, 0.214, 0.205, 0.214,
               0.2, 0.198, 0.214, 0.214, 0.198, 0.19, 0.134, 0.10]

series_names = ["all (10437, 1.00)", "land, CF=0 (1153, 0.11)", "land, CF>0 (4403, 0.42)",
                "ocean, CF=0 (429, 0.04)", "ocean, CF>0 (4452, 0.43)"]
series_colors = ["#000000", "#F39A9C", "#E6383E", "#9EC3E2", "#4A88C0"]

top_series = [(all_top_x, all_top_y), (land0_top_x, land0_top_y), (land_top_x, land_top_y),
              (ocean0_top_x, ocean0_top_y), (ocean_top_x, ocean_top_y)]
bot_series = [(all_bot_x, all_bot_y), (land0_bot_x, land0_bot_y), (land_bot_x, land_bot_y),
              (ocean0_bot_x, ocean0_bot_y), (ocean_bot_x, ocean_bot_y)]

FONT = "Liberation Sans, Arial, sans-serif"

fig = make_subplots(rows=2, cols=1, shared_xaxes=False, vertical_spacing=0.0125,
                    row_heights=[0.505, 0.495])

fig.add_trace(go.Scatter(x=pts_sza + dense_sza, y=pts_bias + dense_bias, mode="markers", showlegend=False,
                         marker=dict(symbol="circle-open", size=4.5,
                                     color="rgba(160,160,160,0.75)", line=dict(width=1))),
              row=1, col=1)

for (xs, ys), name, col in zip(top_series, series_names, series_colors):
    fig.add_trace(go.Scatter(x=xs, y=ys, mode="lines", name=name, showlegend=False,
                             line=dict(color=col, width=2.5)), row=1, col=1)

for (xs, ys), name, col in zip(bot_series, series_names, series_colors):
    fig.add_trace(go.Scatter(x=xs, y=ys, mode="lines", name=name, showlegend=True,
                             line=dict(color=col, width=2.5)), row=2, col=1)

# zero reference line in the bias panel
fig.add_shape(type="line", xref="x domain", yref="y", x0=0, x1=1, y0=0, y1=0,
              line=dict(color="#808080", width=3), layer="below")

axis_common = dict(showline=True, linecolor="#666666", linewidth=1, mirror="ticks",
                   ticks="inside", ticklen=7, tickcolor="#777777", tickwidth=1.5,
                   showgrid=True, gridcolor="#BDBDBD", griddash="1px,2px", gridwidth=1,
                   zeroline=False, tickfont=dict(family=FONT, size=12, color="#222222"))

x_ticks = [20, 30, 40, 50, 60, 70, 80, 90]
fig.update_xaxes(range=[20, 90], tickvals=x_ticks, showticklabels=False, row=1, col=1, **axis_common)
fig.update_xaxes(range=[20, 90], tickvals=x_ticks, ticktext=[str(v) for v in x_ticks],
                 row=2, col=1, **axis_common)

bias_ticks = [-0.8, -0.6, -0.4, -0.2, 0, 0.2, 0.4, 0.6, 0.8]
bias_text = ["-.8", "", "-.4", "", "0", "", ".4", "", ".8"]
fig.update_yaxes(range=[-1, 1], tickvals=bias_ticks, ticktext=bias_text, row=1, col=1, **axis_common)

ip_ticks = [0, 0.2, 0.4, 0.6, 0.8]
fig.update_yaxes(range=[0, 1], tickvals=ip_ticks, ticktext=["0", "0.2", "0.4", "0.6", "0.8"],
                 row=2, col=1, **axis_common)

title_font = dict(family=FONT, size=12.5, color="#111111")
fig.add_annotation(text="Median bias (g cm-2)", xref="paper", yref="paper", x=-0.045, y=0.752,
                   xanchor="center", yanchor="middle",
                   textangle=-90, showarrow=False, font=title_font)
fig.add_annotation(text="IP68 comp. (g cm-2)", xref="paper", yref="paper", x=-0.045, y=0.246,
                   xanchor="center", yanchor="middle",
                   textangle=-90, showarrow=False, font=title_font)
fig.add_annotation(text="SZA (deg)", xref="paper", yref="paper", x=0.5, y=-0.041,
                   xanchor="center", yanchor="middle", showarrow=False, font=title_font)

fig.update_layout(
    width=787, height=686,
    margin=dict(l=48, r=4, t=8, b=44),
    paper_bgcolor="white", plot_bgcolor="white",
    font=dict(family=FONT, size=12, color="#222222"),
    legend=dict(x=0.978, y=0.481, xanchor="right", yanchor="top",
                bgcolor="white", bordercolor="#555555", borderwidth=1,
                font=dict(family=FONT, size=12, color="#111111"),
                tracegroupgap=0, itemwidth=40),
)

fig.write_html("out.html")
